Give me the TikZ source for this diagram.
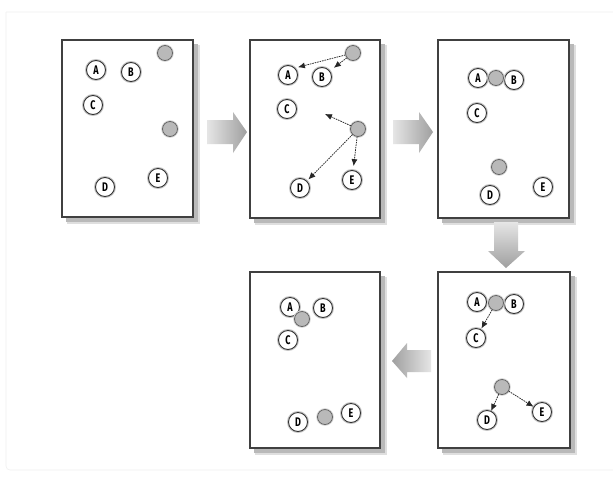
\documentclass[tikz,border=0pt]{standalone}
\usepackage{fontspec}
\usepackage{graphicx}
\newfontfamily\labfont{Fira Sans}
\newcommand{\nl}[1]{\scalebox{0.72}[1]{#1}}
\usetikzlibrary{arrows.meta,shadings}
\tikzset{
  lbl/.style={circle, minimum size=19pt, inner sep=0pt, fill=white,
    draw=black!80, line width=0.9pt,
    preaction={draw=gray!45, line width=3pt},
    font=\labfont\bfseries\fontsize{12.5}{12.5}\selectfont},
  dot/.style={circle, minimum size=15pt, inner sep=0pt, fill=gray!55,
    draw=black!60, line width=0.8pt,
    preaction={draw=gray!30, line width=2.6pt}},
  panel/.style={draw=black!75, line width=1.1pt, fill=white},
  shadowbox/.style={fill=gray!55},
  mv/.style={draw=black!85, line width=0.75pt, dash pattern=on 1.6pt off 0.9pt,
    -{Latex[length=7pt,width=6pt]}}
}
\begin{document}
\begin{tikzpicture}[x=1pt,y=-1pt]
\useasboundingbox (0,0) rectangle (613,480);
\fill[white] (0,0) rectangle (613,480);
\draw[gray!12, line width=0.6pt, rounded corners=4pt] (6,12) -- (613,12) (6,12) -- (6,470) -- (613,470);

% panels with shadows
\foreach \xa/\ya/\xb/\yb in {62/40/193/217, 250/40/380/218, 438/40/569/218, 438/272/570/448, 250/272/380/448}{
  \fill[gray!25] (\xa+5,\ya+5) rectangle (\xb+7,\yb+7);
  \fill[shadowbox] (\xa+4,\ya+4) rectangle (\xb+5,\yb+5);
  \filldraw[panel] (\xa,\ya) rectangle (\xb,\yb);
}

% big arrows
\shade[left color=gray!20, right color=gray!75]
  (207,120) -- (233,120) -- (233,112) -- (247,132) -- (233,153) -- (233,144) -- (207,144) -- cycle;
\shade[left color=gray!20, right color=gray!75]
  (393,120) -- (419,120) -- (419,112) -- (433,132) -- (419,153) -- (419,144) -- (393,144) -- cycle;
\shade[top color=gray!20, bottom color=gray!75]
  (494,222) -- (518,222) -- (518,251) -- (525,251) -- (506,268) -- (488,251) -- (494,251) -- cycle;
\shade[right color=gray!20, left color=gray!75]
  (431,350) -- (407,350) -- (407,343) -- (392,361) -- (407,378) -- (407,372) -- (431,372) -- cycle;

% panel 1
\node[dot] (p1g1) at (165,53) {};
\node[lbl] (p1A) at (96,70) {\nl{A}};
\node[lbl] (p1B) at (131,72) {\nl{B}};
\node[lbl] (p1C) at (93,105) {\nl{C}};
\node[dot] (p1g2) at (170,129) {};
\node[lbl] (p1D) at (105,187) {\nl{D}};
\node[lbl] (p1E) at (158,178) {\nl{E}};

% panel 2
\node[dot] (p2g1) at (353,53) {};
\node[lbl] (p2A) at (288,75) {\nl{A}};
\node[lbl] (p2B) at (322,77) {\nl{B}};
\node[lbl] (p2C) at (287,109) {\nl{C}};
\node[dot] (p2g2) at (358,129) {};
\node[lbl] (p2D) at (300,188) {\nl{D}};
\node[lbl] (p2E) at (352,180) {\nl{E}};
\coordinate (p2t) at (325,114);
\draw[mv, shorten >=3pt] (p2g1) -- (p2A.north east);
\draw[mv, shorten >=5pt] (p2g1) -- (p2B);
\draw[mv] (p2g2) -- (p2t);
\draw[mv, shorten >=2pt] (p2g2) -- (p2D);
\draw[mv, shorten >=4pt] (p2g2) -- (p2E);

% panel 3
\node[lbl] (p3A) at (478,78) {\nl{A}};
\node[lbl] (p3B) at (514,80) {\nl{B}};
\node[dot] (p3g1) at (496,78) {};
\node[lbl] (p3C) at (477,113) {\nl{C}};
\node[dot] (p3g2) at (499,167) {};
\node[lbl] (p3D) at (490,195) {\nl{D}};
\node[lbl] (p3E) at (543,187) {\nl{E}};

% panel 4 (bottom right)
\node[lbl] (p4A) at (477,302) {\nl{A}};
\node[lbl] (p4B) at (514,304) {\nl{B}};
\node[dot] (p4g1) at (496,303) {};
\node[lbl] (p4C) at (476,338) {\nl{C}};
\node[dot] (p4g2) at (502,387) {};
\node[lbl] (p4D) at (487,420) {\nl{D}};
\node[lbl] (p4E) at (542,412) {\nl{E}};
\draw[mv, shorten >=1pt] (p4g1) -- (p4C);
\draw[mv] (p4g2) -- (p4D);
\draw[mv] (p4g2) -- (p4E);

% panel 5 (bottom middle)
\node[lbl] (p5A) at (290,307) {\nl{A}};
\node[lbl] (p5B) at (323,308) {\nl{B}};
\node[dot] (p5g1) at (302,319) {};
\node[lbl] (p5C) at (288,340) {\nl{C}};
\node[lbl] (p5D) at (298,422) {\nl{D}};
\node[dot] (p5g2) at (325,417) {};
\node[lbl] (p5E) at (351,413) {\nl{E}};
\end{tikzpicture}
\end{document}
